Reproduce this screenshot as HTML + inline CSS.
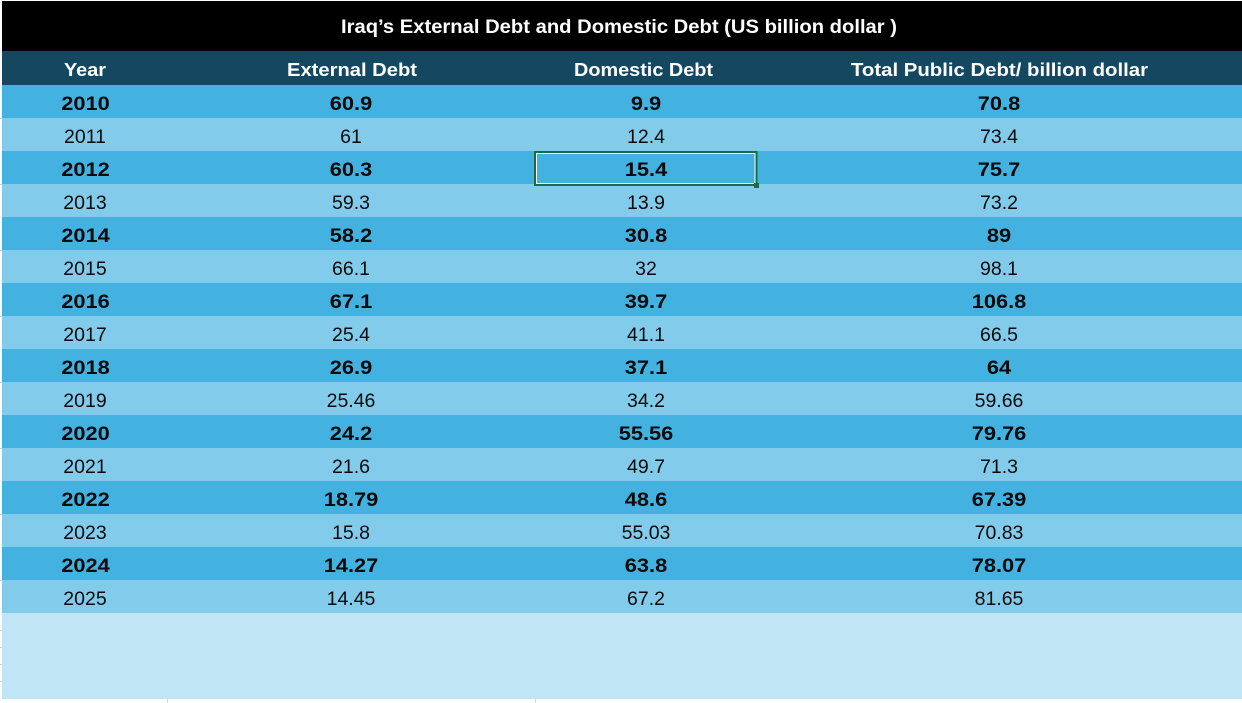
<!DOCTYPE html>
<html>
<head>
<meta charset="utf-8">
<style>
  html,body{margin:0;padding:0;background:#fff;}
  body{width:1242px;height:703px;overflow:hidden;}
  svg{display:block;}
  text{font-family:"Liberation Sans","DejaVu Sans",sans-serif;}
  .h{fill:#fff;font-weight:bold;font-size:18px;}
  .t{fill:#fff;font-weight:bold;font-size:19px;}
  .r{fill:#0a0a0a;font-size:19.5px;}
  .b{fill:#0a0a0a;font-size:19.5px;font-weight:bold;}
</style>
</head>
<body>
<svg width="1242" height="703" viewBox="0 0 1242 703" xmlns="http://www.w3.org/2000/svg">
  <rect x="0" y="0" width="1242" height="703" fill="#fff"/>
  <!-- faint gridlines -->
  <line x1="167.5" y1="699" x2="167.5" y2="703" stroke="#d9d9d9" stroke-width="1"/>
  <line x1="535.5" y1="699" x2="535.5" y2="703" stroke="#d9d9d9" stroke-width="1"/>
  <!-- title -->
  <rect x="2" y="1" width="1240" height="50" fill="#000"/>
  <text class="t" x="341" y="33" textLength="556" lengthAdjust="spacingAndGlyphs">Iraq’s External Debt and Domestic Debt (US billion dollar )</text>
  <!-- header -->
  <rect x="2" y="51" width="1240" height="34" fill="#144861"/>
  <text class="h" x="64" y="76" textLength="42" lengthAdjust="spacingAndGlyphs">Year</text>
  <text class="h" x="287" y="76" textLength="130" lengthAdjust="spacingAndGlyphs">External Debt</text>
  <text class="h" x="574" y="76" textLength="139" lengthAdjust="spacingAndGlyphs">Domestic Debt</text>
  <text class="h" x="851" y="76" textLength="297" lengthAdjust="spacingAndGlyphs">Total Public Debt/ billion dollar</text>

  <!-- rows -->
  <g>
    <rect x="2" y="85" width="1240" height="33" fill="#44b2e1"/>
    <rect x="2" y="118" width="1240" height="33" fill="#83cbeb"/>
    <rect x="2" y="151" width="1240" height="33" fill="#44b2e1"/>
    <rect x="2" y="184" width="1240" height="33" fill="#83cbeb"/>
    <rect x="2" y="217" width="1240" height="33" fill="#44b2e1"/>
    <rect x="2" y="250" width="1240" height="33" fill="#83cbeb"/>
    <rect x="2" y="283" width="1240" height="33" fill="#44b2e1"/>
    <rect x="2" y="316" width="1240" height="33" fill="#83cbeb"/>
    <rect x="2" y="349" width="1240" height="33" fill="#44b2e1"/>
    <rect x="2" y="382" width="1240" height="33" fill="#83cbeb"/>
    <rect x="2" y="415" width="1240" height="33" fill="#44b2e1"/>
    <rect x="2" y="448" width="1240" height="33" fill="#83cbeb"/>
    <rect x="2" y="481" width="1240" height="33" fill="#44b2e1"/>
    <rect x="2" y="514" width="1240" height="33" fill="#83cbeb"/>
    <rect x="2" y="547" width="1240" height="33" fill="#44b2e1"/>
    <rect x="2" y="580" width="1240" height="33" fill="#83cbeb"/>
    <rect x="2" y="613" width="1240" height="86" fill="#c0e5f5"/>
  </g>

  <!-- left edge tick marks -->
  <g stroke="#cfcfcf" stroke-width="1">
    <line x1="0" y1="118.5" x2="2" y2="118.5"/>
    <line x1="0" y1="184.5" x2="2" y2="184.5"/>
    <line x1="0" y1="250.5" x2="2" y2="250.5"/>
    <line x1="0" y1="316.5" x2="2" y2="316.5"/>
    <line x1="0" y1="382.5" x2="2" y2="382.5"/>
    <line x1="0" y1="448.5" x2="2" y2="448.5"/>
    <line x1="0" y1="514.5" x2="2" y2="514.5"/>
    <line x1="0" y1="580.5" x2="2" y2="580.5"/>
    <line x1="0" y1="630.5" x2="2" y2="630.5"/>
    <line x1="0" y1="647.5" x2="2" y2="647.5"/>
    <line x1="0" y1="664.5" x2="2" y2="664.5"/>
    <line x1="0" y1="681.5" x2="2" y2="681.5"/>
  </g>

  <!-- selected cell -->
  <rect x="535" y="152" width="221.5" height="33" fill="none" stroke="#1d6b45" stroke-width="2"/>
  <rect x="536.5" y="153.5" width="218.5" height="30" fill="none" stroke="#ffffff" stroke-width="1"/>
  <rect x="754" y="183" width="5" height="5" fill="#1d6b45"/>

  <!-- bold row text (scaled) -->
  <g text-anchor="middle">
    <!-- 2010 -->
    <g transform="translate(85.5,110) scale(1.12,1)"><text class="b">2010</text></g>
    <g transform="translate(351,110) scale(1.12,1)"><text class="b">60.9</text></g>
    <g transform="translate(646,110) scale(1.12,1)"><text class="b">9.9</text></g>
    <g transform="translate(999,110) scale(1.12,1)"><text class="b">70.8</text></g>
    <!-- 2011 -->
    <text class="r" x="85" y="143">2011</text>
    <text class="r" x="351" y="143">61</text>
    <text class="r" x="646" y="143">12.4</text>
    <text class="r" x="999" y="143">73.4</text>
    <!-- 2012 -->
    <g transform="translate(85.5,176) scale(1.12,1)"><text class="b">2012</text></g>
    <g transform="translate(351,176) scale(1.12,1)"><text class="b">60.3</text></g>
    <g transform="translate(646,176) scale(1.12,1)"><text class="b">15.4</text></g>
    <g transform="translate(999,176) scale(1.12,1)"><text class="b">75.7</text></g>
    <!-- 2013 -->
    <text class="r" x="85" y="209">2013</text>
    <text class="r" x="351" y="209">59.3</text>
    <text class="r" x="646" y="209">13.9</text>
    <text class="r" x="999" y="209">73.2</text>
    <!-- 2014 -->
    <g transform="translate(85.5,242) scale(1.12,1)"><text class="b">2014</text></g>
    <g transform="translate(351,242) scale(1.12,1)"><text class="b">58.2</text></g>
    <g transform="translate(646,242) scale(1.12,1)"><text class="b">30.8</text></g>
    <g transform="translate(999,242) scale(1.12,1)"><text class="b">89</text></g>
    <!-- 2015 -->
    <text class="r" x="85" y="275">2015</text>
    <text class="r" x="351" y="275">66.1</text>
    <text class="r" x="646" y="275">32</text>
    <text class="r" x="999" y="275">98.1</text>
    <!-- 2016 -->
    <g transform="translate(85.5,308) scale(1.12,1)"><text class="b">2016</text></g>
    <g transform="translate(351,308) scale(1.12,1)"><text class="b">67.1</text></g>
    <g transform="translate(646,308) scale(1.12,1)"><text class="b">39.7</text></g>
    <g transform="translate(999,308) scale(1.12,1)"><text class="b">106.8</text></g>
    <!-- 2017 -->
    <text class="r" x="85" y="341">2017</text>
    <text class="r" x="351" y="341">25.4</text>
    <text class="r" x="646" y="341">41.1</text>
    <text class="r" x="999" y="341">66.5</text>
    <!-- 2018 -->
    <g transform="translate(85.5,374) scale(1.12,1)"><text class="b">2018</text></g>
    <g transform="translate(351,374) scale(1.12,1)"><text class="b">26.9</text></g>
    <g transform="translate(646,374) scale(1.12,1)"><text class="b">37.1</text></g>
    <g transform="translate(999,374) scale(1.12,1)"><text class="b">64</text></g>
    <!-- 2019 -->
    <text class="r" x="85" y="407">2019</text>
    <text class="r" x="351" y="407">25.46</text>
    <text class="r" x="646" y="407">34.2</text>
    <text class="r" x="999" y="407">59.66</text>
    <!-- 2020 -->
    <g transform="translate(85.5,440) scale(1.12,1)"><text class="b">2020</text></g>
    <g transform="translate(351,440) scale(1.12,1)"><text class="b">24.2</text></g>
    <g transform="translate(646,440) scale(1.12,1)"><text class="b">55.56</text></g>
    <g transform="translate(999,440) scale(1.12,1)"><text class="b">79.76</text></g>
    <!-- 2021 -->
    <text class="r" x="85" y="473">2021</text>
    <text class="r" x="351" y="473">21.6</text>
    <text class="r" x="646" y="473">49.7</text>
    <text class="r" x="999" y="473">71.3</text>
    <!-- 2022 -->
    <g transform="translate(85.5,506) scale(1.12,1)"><text class="b">2022</text></g>
    <g transform="translate(351,506) scale(1.12,1)"><text class="b">18.79</text></g>
    <g transform="translate(646,506) scale(1.12,1)"><text class="b">48.6</text></g>
    <g transform="translate(999,506) scale(1.12,1)"><text class="b">67.39</text></g>
    <!-- 2023 -->
    <text class="r" x="85" y="539">2023</text>
    <text class="r" x="351" y="539">15.8</text>
    <text class="r" x="646" y="539">55.03</text>
    <text class="r" x="999" y="539">70.83</text>
    <!-- 2024 -->
    <g transform="translate(85.5,572) scale(1.12,1)"><text class="b">2024</text></g>
    <g transform="translate(351,572) scale(1.12,1)"><text class="b">14.27</text></g>
    <g transform="translate(646,572) scale(1.12,1)"><text class="b">63.8</text></g>
    <g transform="translate(999,572) scale(1.12,1)"><text class="b">78.07</text></g>
    <!-- 2025 -->
    <text class="r" x="85" y="605">2025</text>
    <text class="r" x="351" y="605">14.45</text>
    <text class="r" x="646" y="605">67.2</text>
    <text class="r" x="999" y="605">81.65</text>
  </g>
</svg>
</body>
</html>
